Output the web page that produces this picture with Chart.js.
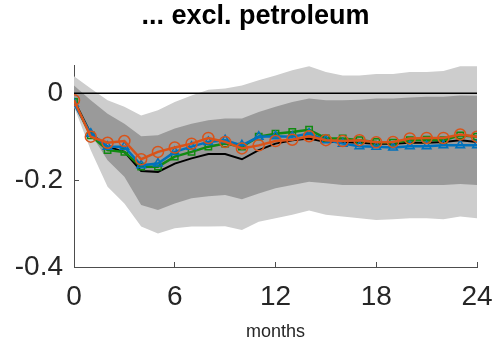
<!DOCTYPE html>
<html>
<head>
<meta charset="utf-8">
<script src="https://cdn.jsdelivr.net/npm/chart.js@4/dist/chart.umd.min.js"></script>
<style>
  html, body { margin: 0; padding: 0; background: #fff; }
  canvas { display: block; }
</style>
</head>
<body>
<canvas id="chart" width="501" height="341"></canvas>
<script>
// horizon in months
const months = [0,1,2,3,4,5,6,7,8,9,10,11,12,13,14,15,16,17,18,19,20,21,22,23,24];
const xTicks = [0, 6, 12, 18, 24];
const yTicks = [-0.4, -0.2, 0];
const titleText = '... excl. petroleum';

// response lines
const medianLine = [-0.016,-0.093,-0.123,-0.135,-0.179,-0.181,-0.162,-0.150,-0.140,-0.140,-0.152,-0.131,-0.116,-0.108,-0.104,-0.112,-0.112,-0.114,-0.116,-0.116,-0.114,-0.114,-0.112,-0.108,-0.112];
const orangeCircles = [-0.016,-0.100,-0.114,-0.110,-0.152,-0.135,-0.125,-0.116,-0.103,-0.112,-0.127,-0.120,-0.110,-0.107,-0.099,-0.108,-0.110,-0.108,-0.113,-0.112,-0.104,-0.103,-0.103,-0.095,-0.100];
const greenSquares = [-0.020,-0.097,-0.131,-0.135,-0.169,-0.169,-0.146,-0.135,-0.123,-0.116,-0.123,-0.100,-0.093,-0.089,-0.084,-0.104,-0.104,-0.108,-0.112,-0.114,-0.108,-0.107,-0.108,-0.097,-0.100];
const blueTriangles = [-0.024,-0.093,-0.123,-0.123,-0.166,-0.162,-0.135,-0.123,-0.112,-0.108,-0.120,-0.100,-0.099,-0.100,-0.093,-0.108,-0.116,-0.122,-0.123,-0.125,-0.122,-0.122,-0.120,-0.120,-0.120];

// confidence bands
const innerUpper = [0.018,-0.016,-0.047,-0.070,-0.099,-0.097,-0.081,-0.070,-0.062,-0.058,-0.058,-0.043,-0.031,-0.020,-0.012,-0.016,-0.016,-0.015,-0.012,-0.012,-0.010,-0.008,-0.008,-0.005,-0.006];
const innerLower = [-0.016,-0.093,-0.154,-0.192,-0.257,-0.269,-0.254,-0.242,-0.237,-0.234,-0.244,-0.231,-0.219,-0.211,-0.204,-0.207,-0.211,-0.211,-0.211,-0.211,-0.211,-0.211,-0.211,-0.209,-0.211];
const outerUpper = [0.039,0.011,-0.016,-0.031,-0.051,-0.039,-0.020,-0.005,0.008,0.011,0.018,0.030,0.041,0.053,0.062,0.049,0.041,0.041,0.044,0.044,0.049,0.049,0.051,0.062,0.062];
const outerLower = [-0.031,-0.131,-0.215,-0.254,-0.307,-0.323,-0.311,-0.307,-0.307,-0.306,-0.315,-0.296,-0.288,-0.280,-0.270,-0.280,-0.284,-0.288,-0.292,-0.290,-0.288,-0.288,-0.290,-0.284,-0.288];

const zeroLine = [0, 0];
const zeroX = [months[0], months[months.length - 1]];

const pts = (xs, ys) => ys.map((y, i) => ({ x: xs[i], y: y }));
const FONT = "'Liberation Sans', Arial, Helvetica, sans-serif";
const AXIS = '#4d4d4d';

const marker = (color, style, r) => ({
  borderColor: color,
  pointStyle: style,
  pointRadius: r,
  pointBorderColor: color,
  pointBackgroundColor: 'rgba(0,0,0,0)',
  pointBorderWidth: 1.5,
  borderWidth: 2.5,
  fill: false,
  tension: 0,
});

const band = (ys, color, fill) => ({
  data: pts(months, ys),
  borderWidth: 0,
  pointRadius: 0,
  backgroundColor: color,
  fill: fill,
  tension: 0,
});

// title sits a little left of the axes centre, like the original figure
const figTitle = {
  id: 'figTitle',
  afterDraw(chart) {
    const a = chart.chartArea;
    const ctx = chart.ctx;
    ctx.save();
    ctx.font = 'bold 27px ' + FONT;
    ctx.fillStyle = '#000';
    ctx.textAlign = 'center';
    ctx.textBaseline = 'alphabetic';
    ctx.fillText(titleText, (a.left + a.right) / 2 - 20, a.top - 41);
    ctx.restore();
  },
};

new Chart(document.getElementById('chart'), {
  type: 'line',
  data: {
    datasets: [
      Object.assign({ data: pts(months, orangeCircles) }, marker('#D95319', 'circle', 5.5)),
      Object.assign({ data: pts(months, blueTriangles) }, marker('#0072BD', 'triangle', 5)),
      Object.assign({ data: pts(months, greenSquares) }, marker('#118a11', 'rect', 4.5)),
      { data: pts(months, medianLine), borderColor: '#000', borderWidth: 2, pointRadius: 0, fill: false, tension: 0 },
      { data: pts(zeroX, zeroLine), borderColor: '#000', borderWidth: 1.5, pointRadius: 0, fill: false },
      band(innerUpper, '#9a9a9a', false),
      band(innerLower, '#9a9a9a', '-1'),
      band(outerUpper, '#cdcdcd', false),
      band(outerLower, '#cdcdcd', '-1'),
    ],
  },
  plugins: [figTitle],
  options: {
    responsive: false,
    devicePixelRatio: 1,
    animation: false,
    layout: { padding: { top: 65, right: 24, bottom: 0, left: 0 } },
    plugins: {
      legend: { display: false },
      tooltip: { enabled: false },
      title: { display: false },
    },
    scales: {
      x: {
        type: 'linear',
        min: 0,
        max: 24,
        afterBuildTicks: (s) => { s.ticks = xTicks.map(v => ({ value: v })); },
        afterFit: (s) => { s.height = 74; s.paddingLeft = 0; s.paddingRight = 0; },
        border: { display: true, color: AXIS, width: 1 },
        grid: { drawOnChartArea: false, drawTicks: true, tickLength: -5, color: AXIS },
        ticks: { padding: 18, color: '#262626', maxRotation: 0, font: { family: FONT, size: 28 } },
        title: {
          display: true,
          text: 'months',
          color: '#262626',
          font: { family: FONT, size: 18, lineHeight: 1 },
          padding: 0,
        },
      },
      y: {
        min: -0.4,
        max: 0.065,
        afterBuildTicks: (s) => { s.ticks = yTicks.map(v => ({ value: v })); },
        afterFit: (s) => { s.width = 74; s.paddingTop = 0; s.paddingBottom = 0; },
        border: { display: true, color: AXIS, width: 1 },
        grid: { drawOnChartArea: false, drawTicks: true, tickLength: -5, color: AXIS },
        ticks: {
          padding: 16,
          color: '#262626',
          font: { family: FONT, size: 28 },
          callback: (v) => (v === 0 ? '0' : v.toFixed(1)),
        },
      },
    },
  },
});
</script>
</body>
</html>
